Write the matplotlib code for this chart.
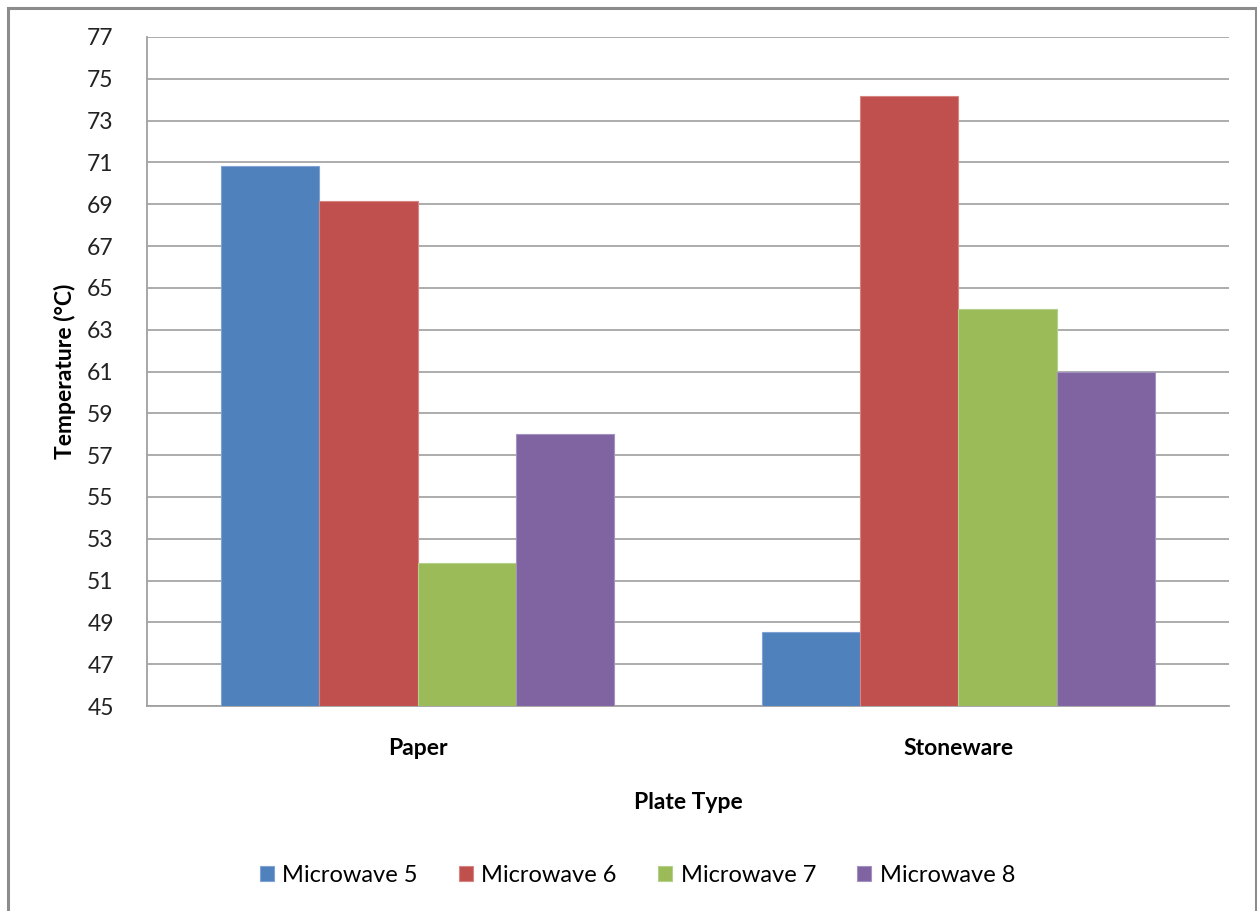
import numpy as np
import matplotlib
matplotlib.use("Agg")
import matplotlib.pyplot as plt
from matplotlib.patches import Rectangle

plt.rcParams['font.family'] = ['Lato', 'DejaVu Sans']

# plate types and readings per microwave
plates = ["Paper", "Stoneware"]
series = ["Microwave 5", "Microwave 6", "Microwave 7", "Microwave 8"]
mw5 = [70.85, 48.55]
mw6 = [69.15, 74.2]
mw7 = [51.85, 64.0]
mw8 = [58.0, 61.0]
values = [mw5, mw6, mw7, mw8]
colors = ["#4F81BD", "#C0504D", "#9BBB59", "#8064A2"]
edges = ["#7FA3D4", "#D68583", "#B5D08A", "#A391C0"]
yticks = list(range(45, 78, 2))

fig = plt.figure(figsize=(12.57, 9.11), dpi=100)
ax = fig.add_axes([0.117, 0.225, 0.8607, 0.7344])

x = np.arange(len(plates))
w = 1 / 5.5
for i, (name, vals) in enumerate(zip(series, values)):
    ax.bar(x + (i - 1.5) * w, np.array(vals) - 45, bottom=45, width=w,
           color=colors[i], edgecolor=edges[i], linewidth=0.8,
           label=name, zorder=3)

ax.set_xlim(-0.5, 1.5)
ax.set_ylim(45, 77)
ax.set_yticks(yticks)
ax.set_yticklabels([str(t) for t in yticks], fontsize=16.5, color="#222222")
ax.tick_params(axis="y", length=0, pad=24)
ax.set_xticks(x)
ax.set_xticklabels(plates, fontsize=16.5, fontweight="bold")
ax.tick_params(axis="x", length=0, pad=23)
ax.grid(axis="y", color="#A6A6A6", linewidth=1.3, zorder=0)
for s in ["top", "right"]:
    ax.spines[s].set_visible(False)
for s in ["left", "bottom"]:
    ax.spines[s].set_color("#A0A0A0")
    ax.spines[s].set_linewidth(1.3)

ax.set_ylabel("Temperature (°C)", fontsize=16.5, fontweight="bold", labelpad=8)
ax.set_xlabel("Plate Type", fontsize=16.5, fontweight="bold", labelpad=24)

# legend centred on the whole chart, not the plot area
fig.legend(*ax.get_legend_handles_labels(), loc="center",
           bbox_to_anchor=(0.507, 1 - 875 / 911), ncol=4, frameon=False,
           fontsize=17, handlelength=0.6, handleheight=0.6,
           handletextpad=0.35, columnspacing=1.75)

# outer chart frame
fig.patches.append(Rectangle((8 / 1257, -0.05), 1248 / 1257, 1.05 - 8 / 911,
                             transform=fig.transFigure, fill=False,
                             edgecolor="#8C8C8C", linewidth=2.2))

fig.savefig("out.png", dpi=100)
